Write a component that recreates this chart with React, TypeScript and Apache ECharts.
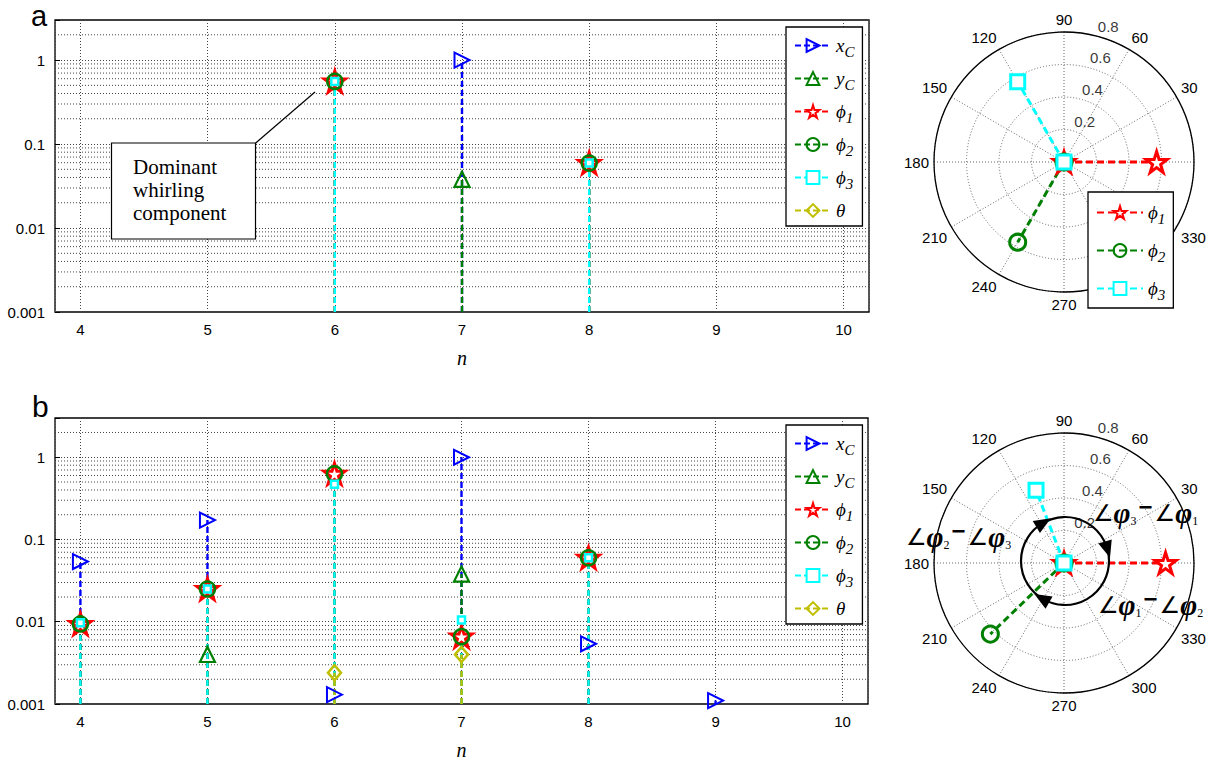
import React, { useEffect, useRef } from "react";
import * as echarts from "echarts";

// ---------------- data ----------------
const N_VALUES = [4, 5, 6, 7, 8, 9, 10];
const Y_MIN = 0.001;
const Y_MAX = 3;
const X_MIN = 3.8;
const X_MAX = 10.2;
const MINOR_GRID = [
  0.002, 0.003, 0.004, 0.005, 0.006, 0.007, 0.008, 0.009,
  0.02, 0.03, 0.04, 0.05, 0.06, 0.07, 0.08, 0.09,
  0.2, 0.3, 0.4, 0.5, 0.6, 0.7, 0.8, 0.9, 2,
];

// panel a (stem amplitudes per n = 4..10; null = below 0.001)
const A_XC = [null, null, null, 1.0, null, null, null];
const A_YC = [null, null, null, 0.038, null, null, null];
const A_PHI1 = [null, null, 0.557, null, 0.0594, null, null];
const A_PHI2 = [null, null, 0.557, null, 0.0594, null, null];
const A_PHI3 = [null, null, 0.557, null, 0.0594, null, null];
const A_THETA = [null, null, null, null, null, null, null];

// panel b
const B_XC = [0.054, 0.172, 0.0013, 1.0, 0.0054, 0.0011, null];
const B_YC = [null, 0.004, null, 0.038, null, null, null];
const B_PHI1 = [0.0094, 0.025, 0.63, 0.0066, 0.06, null, null];
const B_PHI2 = [0.0094, 0.025, 0.63, 0.0066, 0.06, null, null];
const B_PHI3 = [0.0097, 0.025, 0.47, 0.0105, 0.06, null, null];
const B_THETA = [null, null, 0.0024, 0.004, null, null, null];

// polar phasors (phi1, phi2, phi3): magnitude and angle (deg)
const A_POLAR_MAG = [0.57, 0.57, 0.57];
const A_POLAR_ANG = [0, 240, 120];
const B_POLAR_MAG = [0.625, 0.63, 0.48];
const B_POLAR_ANG = [0, 224, 111];
const RING_VALUES = [0.2, 0.4, 0.6, 0.8];
const ANGLE_HIDDEN_A = [0, 300, 360];
const ANGLE_HIDDEN_B = [0, 360];

// ---------------- styles ----------------
const SANS = "'Liberation Sans', Arial, sans-serif";
const SERIF = "'Liberation Serif', 'Times New Roman', serif";
const STAR =
  "path://M0,-10L2.245,-3.09L9.51,-3.09L3.633,1.18L5.88,8.09L0,3.82L-5.88,8.09L-3.633,1.18L-9.51,-3.09L-2.245,-3.09Z";

const STEM_STYLES = [
  { key: "xC", color: "#0000ff", symbol: "triangle", size: 15, rotate: -90, fill: "rgba(255,255,255,0)", bw: 2 },
  { key: "yC", color: "#008000", symbol: "triangle", size: 15, rotate: 0, fill: "rgba(255,255,255,0)", bw: 2.2 },
  { key: "p1", color: "#ff0000", symbol: STAR, size: 21, rotate: 0, fill: "#ffffff", bw: 3 },
  { key: "p2", color: "#008000", symbol: "circle", size: 15, rotate: 0, fill: "rgba(255,255,255,0)", bw: 2.5 },
  { key: "p3", color: "#00ffff", symbol: "rect", size: 7, rotate: 0, fill: "#ffffff", bw: 2.5 },
  { key: "th", color: "#bfbf00", symbol: "diamond", size: [13, 15], rotate: 0, fill: "rgba(255,255,255,0)", bw: 2.5 },
];
const POLAR_STYLES = [
  { key: "p1", color: "#ff0000", symbol: STAR, size: 21, fill: "#ffffff", bw: 3 },
  { key: "p2", color: "#008000", symbol: "circle", size: 16, fill: "rgba(255,255,255,0)", bw: 3 },
  { key: "p3", color: "#00ffff", symbol: "rect", size: 14, fill: "#ffffff", bw: 3 },
];
const LEGEND_LABEL: Record<string, string> = {
  xC: "{i|x}{s|C}",
  yC: "{i|y}{s|C}",
  p1: "{i|ϕ}{s|1}",
  p2: "{i|ϕ}{s|2}",
  p3: "{i|ϕ}{s|3}",
  th: "{i|θ}",
};
const LEGEND_RICH = {
  i: { fontFamily: SERIF, fontStyle: "italic", fontSize: 19, color: "#000" },
  s: { fontFamily: SERIF, fontStyle: "italic", fontSize: 15, color: "#000", padding: [12, 0, 0, 0] },
};
const ANGLE_RICH = {
  a: { fontFamily: "'DejaVu Sans', sans-serif", fontSize: 23, color: "#000" },
  p: { fontFamily: SERIF, fontStyle: "italic", fontWeight: "bold", fontSize: 29, color: "#000" },
  s: { fontFamily: SERIF, fontSize: 12, color: "#000", padding: [16, 0, 0, 0] },
  m: { fontFamily: SANS, fontWeight: "bold", fontSize: 24, color: "#000", padding: [0, 2, 14, 2] },
};
const GRID_LINE = { color: "#444", type: [1, 2] as number[], width: 1 };

function stemData(values: (number | null)[]) {
  const out: any[] = [];
  values.forEach((v, i) => {
    if (v == null) return;
    out.push({ value: [N_VALUES[i], Y_MIN], symbol: "none" });
    out.push({ value: [N_VALUES[i], v] });
    out.push("-");
  });
  return out;
}

function stemSeries(prefix: string, gi: number, sets: (number | null)[][]) {
  return STEM_STYLES.map((st, k) => ({
    type: "line",
    name: `${prefix}:${st.key}`,
    xAxisIndex: gi,
    yAxisIndex: gi,
    data: stemData(sets[k]),
    symbol: st.symbol,
    symbolSize: st.size,
    symbolRotate: st.rotate,
    showSymbol: true,
    connectNulls: false,
    lineStyle: { color: st.color, width: 2.4, type: [6, 3] },
    itemStyle: { color: st.fill, borderColor: st.color, borderWidth: st.bw },
    emphasis: { disabled: true },
    silent: true,
    z: 3,
  }));
}

function minorGridSeries(gi: number) {
  return {
    type: "custom",
    xAxisIndex: gi,
    yAxisIndex: gi,
    silent: true,
    z: 1,
    data: MINOR_GRID.map((v) => [X_MIN, v]),
    renderItem: (params: any, api: any) => {
      const p = api.coord([X_MIN, api.value(1)]);
      const cs = params.coordSys;
      return {
        type: "line",
        shape: { x1: cs.x, y1: p[1], x2: cs.x + cs.width, y2: p[1] },
        style: { stroke: "#444", lineWidth: 1, lineDash: [1, 2] },
      };
    },
  };
}

function polarSeries(prefix: string, pi: number, mags: number[], angs: number[]) {
  return POLAR_STYLES.map((st, k) => ({
    type: "line",
    name: `${prefix}:${st.key}`,
    coordinateSystem: "polar",
    polarIndex: pi,
    data: [
      [0, 0],
      [mags[k], angs[k]],
    ],
    symbol: st.symbol,
    symbolSize: st.size,
    showSymbol: true,
    lineStyle: { color: st.color, width: 3, type: [7, 4] },
    itemStyle: { color: st.fill, borderColor: st.color, borderWidth: st.bw },
    emphasis: { disabled: true },
    silent: true,
    z: 3,
  }));
}

function ringLabelSeries(pi: number) {
  return {
    type: "scatter",
    coordinateSystem: "polar",
    polarIndex: pi,
    clip: false,
    silent: true,
    symbolSize: 0,
    data: RING_VALUES.map((r) => [r + 0.06, 76]),
    label: {
      show: true,
      position: "right",
      distance: 0,
      formatter: (p: any) => String(RING_VALUES[p.dataIndex]),
      fontFamily: SANS,
      fontSize: 15,
      color: "#000",
    },
    z: 2,
  };
}

function arrowPoints(cx: number, cy: number, r: number, angDeg: number) {
  const a = (angDeg * Math.PI) / 180;
  const px = cx + r * Math.cos(a);
  const py = cy - r * Math.sin(a);
  const tx = Math.sin(a);
  const ty = Math.cos(a);
  const nx = -ty;
  const ny = tx;
  const bx = px - tx * 7;
  const by = py - ty * 7;
  return [
    [px + tx * 10, py + ty * 10],
    [bx + nx * 7, by + ny * 7],
    [bx - nx * 7, by - ny * 7],
  ];
}

const ARC_CX = 1065;
const ARC_CY = 561;
const ARC_R = 44;
const ARROW_ANGLES = [121, 17, 240];

function buildOption() {
  const yLabelFmt = (v: number) => {
    const e = Math.log10(v);
    const r = Math.round(e);
    return Math.abs(e - r) < 1e-6 ? String(Number(Math.pow(10, r).toPrecision(1))) : "";
  };
  const xLabelFmt = (v: number) => (Math.abs(v - Math.round(v)) < 1e-6 ? String(Math.round(v)) : "");

  const grids = [
    { left: 55, top: 20, width: 814, height: 292 },
    { left: 55, top: 418, width: 813, height: 291 },
  ].map((g) => ({ ...g, show: true, borderColor: "#000", borderWidth: 1.3, backgroundColor: "rgba(0,0,0,0)" }));

  const xAxes = [0, 1].map((gi) => ({
    type: "value",
    gridIndex: gi,
    min: X_MIN,
    max: X_MAX,
    splitNumber: 6,
    name: "n",
    nameLocation: "middle",
    nameGap: 36,
    nameTextStyle: { fontFamily: SERIF, fontStyle: "italic", fontSize: 20, color: "#000" },
    axisLine: { show: false },
    axisTick: { show: false },
    axisLabel: { fontFamily: SANS, fontSize: 15, color: "#000", margin: 10, formatter: xLabelFmt },
    splitLine: { show: true, lineStyle: GRID_LINE },
  }));
  const yAxes = [0, 1].map((gi) => ({
    type: "log",
    gridIndex: gi,
    logBase: 10,
    min: Y_MIN,
    max: Y_MAX,
    axisLine: { show: false },
    axisTick: { show: true, inside: true, length: 5, lineStyle: { color: "#000" } },
    axisLabel: { fontFamily: SANS, fontSize: 15, color: "#000", margin: 10, formatter: yLabelFmt },
    splitLine: { show: true, lineStyle: GRID_LINE },
  }));

  const legendCommon = {
    orient: "vertical",
    backgroundColor: "#fff",
    borderColor: "#000",
    borderWidth: 1.3,
    selectedMode: false,
    formatter: (name: string) => LEGEND_LABEL[name.split(":")[1]],
    textStyle: { rich: LEGEND_RICH },
    z: 10,
  };

  const polarAngleAxis = (pi: number, hidden: number[]) => ({
    polarIndex: pi,
    type: "value",
    min: 0,
    max: 360,
    interval: 30,
    startAngle: 0,
    clockwise: false,
    axisLine: { show: true, lineStyle: { color: "#000", width: 1.3 } },
    axisTick: { show: false },
    axisLabel: {
      margin: 5,
      fontFamily: SANS,
      fontSize: 15,
      color: "#000",
      formatter: (v: number) => (hidden.includes(v) ? "" : String(v)),
    },
    splitLine: { show: true, lineStyle: { color: "#666", type: [1, 2], width: 1 } },
  });
  const polarRadiusAxis = (pi: number) => ({
    polarIndex: pi,
    type: "value",
    min: 0,
    max: 0.8,
    interval: 0.2,
    axisLine: { show: false },
    axisTick: { show: false },
    axisLabel: { show: false },
    splitLine: { show: true, lineStyle: { color: "#666", type: [1, 2], width: 1 } },
  });

  const angleText = (x: number, y: number, a: string, b: string) => ({
    type: "text",
    x,
    y,
    z: 20,
    style: {
      text: `{a|∠}{p|φ}{s|${a}}{m|−}{a|∠}{p|φ}{s|${b}}`,
      rich: ANGLE_RICH,
      verticalAlign: "middle",
      align: "left",
    },
  });

  const graphic: any[] = [
    { type: "text", x: 31, y: 16, z: 20, style: { text: "a", font: `29px ${SANS}`, fill: "#000", verticalAlign: "middle" } },
    { type: "text", x: 32, y: 406, z: 20, style: { text: "b", font: `30px ${SANS}`, fill: "#000", verticalAlign: "middle" } },
    { type: "line", z: 20, shape: { x1: 255.7, y1: 143, x2: 315, y2: 92 }, style: { stroke: "#000", lineWidth: 1.2 } },
    {
      type: "rect",
      z: 20,
      shape: { x: 111.5, y: 143, width: 144, height: 96 },
      style: { fill: "#fff", stroke: "#000", lineWidth: 1.2 },
    },
    {
      type: "text",
      x: 133,
      y: 155.5,
      z: 21,
      style: { text: "Dominant\nwhirling\ncomponent", font: `21px ${SERIF}`, lineHeight: 23, fill: "#000" },
    },
    {
      type: "circle",
      z: 15,
      shape: { cx: ARC_CX, cy: ARC_CY, r: ARC_R },
      style: { fill: "none", stroke: "#000", lineWidth: 2.2 },
    },
    ...ARROW_ANGLES.map((a) => ({
      type: "polygon",
      z: 16,
      shape: { points: arrowPoints(ARC_CX, ARC_CY, ARC_R, a) },
      style: { fill: "#000" },
    })),
    angleText(1093, 513, "3", "1"),
    angleText(906, 537, "2", "3"),
    angleText(1098, 605, "1", "2"),
  ];

  return {
    animation: false,
    backgroundColor: "#fff",
    grid: grids,
    xAxis: xAxes,
    yAxis: yAxes,
    polar: [
      { center: [1064, 162], radius: 130 },
      { center: [1064, 563], radius: 130 },
    ],
    angleAxis: [polarAngleAxis(0, ANGLE_HIDDEN_A), polarAngleAxis(1, ANGLE_HIDDEN_B)],
    radiusAxis: [polarRadiusAxis(0), polarRadiusAxis(1)],
    legend: [
      {
        ...legendCommon,
        left: 786,
        top: 27,
        itemWidth: 36,
        itemHeight: 16,
        itemGap: 10,
        padding: [9, 8, 6, 8],
        data: STEM_STYLES.map((s) => `a:${s.key}`),
      },
      {
        ...legendCommon,
        left: 786,
        top: 425,
        itemWidth: 36,
        itemHeight: 16,
        itemGap: 10,
        padding: [9, 8, 6, 8],
        data: STEM_STYLES.map((s) => `b:${s.key}`),
      },
      {
        ...legendCommon,
        left: 1088,
        top: 192,
        itemWidth: 46,
        itemHeight: 16,
        itemGap: 15,
        padding: [11, 8, 6, 8],
        data: POLAR_STYLES.map((s) => `pa:${s.key}`),
      },
    ],
    series: [
      minorGridSeries(0),
      minorGridSeries(1),
      ...stemSeries("a", 0, [A_XC, A_YC, A_PHI1, A_PHI2, A_PHI3, A_THETA]),
      ...stemSeries("b", 1, [B_XC, B_YC, B_PHI1, B_PHI2, B_PHI3, B_THETA]),
      ringLabelSeries(0),
      ringLabelSeries(1),
      ...polarSeries("pa", 0, A_POLAR_MAG, A_POLAR_ANG),
      ...polarSeries("pb", 1, B_POLAR_MAG, B_POLAR_ANG),
    ],
    graphic,
  };
}

export default function App() {
  const ref = useRef<HTMLDivElement>(null);
  useEffect(() => {
    const chart = echarts.init(ref.current!, undefined, { renderer: "svg" });
    chart.setOption(buildOption() as any);
    return () => chart.dispose();
  }, []);
  return (
    <div
      ref={ref}
      style={{ position: "fixed", left: 0, top: 0, width: 1218, height: 761, background: "#fff" }}
    />
  );
}
